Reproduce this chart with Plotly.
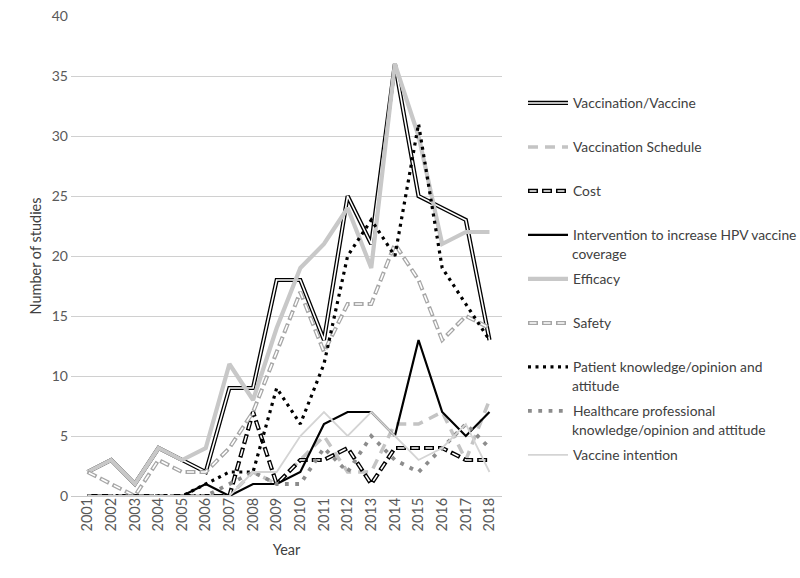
import plotly.graph_objects as go

years = list(range(2001, 2019))
year_labels = [str(y) for y in years]

vaccination = [2, 3, 1, 4, 3, 2, 9, 9, 18, 18, 13, 25, 21, 36, 25, 24, 23, 13]
schedule = [0, 0, 0, 0, 0, 0, 0, 2, 1, 3, 5, 2, 2, 6, 6, 7, 3, 8]
cost = [0, 0, 0, 0, 0, 0, 0, 7, 1, 3, 3, 4, 1, 4, 4, 4, 3, 3]
intervention = [0, 0, 0, 0, 0, 1, 0, 1, 1, 2, 6, 7, 7, 5, 13, 7, 5, 7]
efficacy = [2, 3, 1, 4, 3, 4, 11, 8, 14, 19, 21, 24, 19, 36, 30, 21, 22, 22]
safety = [2, 1, 0, 3, 2, 2, 4, 7, 12, 17, 12, 16, 16, 21, 18, 13, 15, 14]
patient = [0, 0, 0, 0, 0, 1, 2, 2, 9, 6, 11, 20, 23, 20, 31, 19, 16, 13]
healthcare = [0, 0, 0, 0, 0, 0, 1, 2, 1, 1, 4, 2, 5, 3, 2, 4, 6, 4]
intention = [0, 0, 0, 0, 0, 0, 0, 2, 2, 5, 7, 5, 7, 5, 3, 4, 6, 2]

series_names = [
    "Vaccination/Vaccine",
    "Vaccination Schedule",
    "Cost",
    "Intervention to increase HPV vaccine",
    "Efficacy",
    "Safety",
    "Patient knowledge/opinion and",
    "Healthcare professional",
    "Vaccine intention",
]
continuations = {3: "coverage", 6: "attitude", 7: "knowledge/opinion and attitude"}
series_values = [vaccination, schedule, cost, intervention, efficacy, safety,
                 patient, healthcare, intention]

# styles: (outer color, width, dash, inner white overlay width or None, inner dash)
styles = [
    ("#000000", 4.2, "solid", 1.6, "solid"),
    ("#c4c4c4", 3.5, "10px,7px", None, None),
    ("#000000", 4.2, "10px,4px", 1.6, "0px,1.5px,7px,5.5px"),
    ("#000000", 2.2, "solid", None, None),
    ("#c8c8c8", 4.2, "solid", None, None),
    ("#a6a6a6", 4.0, "10px,4px", 1.6, "0px,1.5px,7px,5.5px"),
    ("#000000", 3.2, "3px,4.5px", None, None),
    ("#8c8c8c", 3.8, "3.8px,6.5px", None, None),
    ("#d4d4d4", 1.8, "solid", None, None),
]

FONT = "Lato"
LEG_SIZE = 13.8
L, R, T, B = 71, 298, 16, 82
PW, PH = 800 - L - R, 578 - T - B
legend_py = [103, 147, 191, 235, 279, 323, 367, 411, 455]
legend_px = 523


def px_to_paper(px, py):
    return (px - L) / PW, (578 - B - py) / PH


fig = go.Figure()
layout_legends = {}
annotations = []
overlay_idx = 10
for i, (name, vals, st) in enumerate(zip(series_names, series_values, styles)):
    color, width, dash, inner_w, inner_dash = st
    lname = "legend" if i == 0 else f"legend{i + 1}"
    fig.add_trace(go.Scatter(
        x=years, y=vals, mode="lines", name=name,
        line=dict(color=color, width=width, dash=dash),
        legend=lname, showlegend=True, hoverinfo="skip"))
    lx, ly = px_to_paper(legend_px, legend_py[i])
    layout_legends[lname] = dict(
        x=lx, y=ly, xanchor="left", yanchor="middle",
        bgcolor="rgba(0,0,0,0)", borderwidth=0, itemwidth=40,
        font=dict(family=FONT, size=LEG_SIZE, color="#404040"))
    if inner_w:
        oname = f"legend{overlay_idx}"
        overlay_idx += 1
        fig.add_trace(go.Scatter(
            x=years, y=vals, mode="lines", name=name,
            line=dict(color="#ffffff", width=inner_w, dash=inner_dash),
            legend=oname, showlegend=True, hoverinfo="skip"))
        layout_legends[oname] = dict(
            x=lx, y=ly, xanchor="left", yanchor="middle",
            bgcolor="rgba(0,0,0,0)", borderwidth=0, itemwidth=40,
            font=dict(family=FONT, size=LEG_SIZE, color="rgba(0,0,0,0)"))
    if i in continuations:
        ax, ay = px_to_paper(570, legend_py[i] + 18)
        annotations.append(dict(
            x=ax, y=ay, xref="paper", yref="paper", xanchor="left",
            yanchor="middle", showarrow=False, text=continuations[i],
            font=dict(family=FONT, size=LEG_SIZE, color="#404040")))

fig.update_layout(
    width=800, height=578,
    margin=dict(l=L, r=R, t=T, b=B, autoexpand=False),
    paper_bgcolor="white", plot_bgcolor="white",
    font=dict(family=FONT, size=13, color="#595959"),
    annotations=annotations,
    **layout_legends,
)
fig.update_xaxes(
    range=[2000.3, 2018.53], tickvals=years, ticktext=year_labels,
    tickangle=-90, showgrid=False, zeroline=False, showline=False,
    ticks="", ticklabelstandoff=-2, automargin=False,
    tickfont=dict(family=FONT, size=14.5, color="#595959"),
    title=dict(text="Year", standoff=14,
               font=dict(family=FONT, size=14.5, color="#404040")))
fig.update_yaxes(
    range=[0, 40], dtick=5, showgrid=True, gridcolor="#d0d0d0", gridwidth=1,
    zeroline=True, zerolinecolor="#c8c8c8", zerolinewidth=1, showline=False,
    ticks="", ticklabelstandoff=2, automargin=False,
    tickfont=dict(family=FONT, size=14, color="#595959"),
    title=dict(text="Number of studies", standoff=6,
               font=dict(family=FONT, size=14.5, color="#404040")))

fig.write_html(
    "out.html",
    config={"displayModeBar": False},
    post_script="document.body.style.margin='0';document.body.style.padding='0';",
)
